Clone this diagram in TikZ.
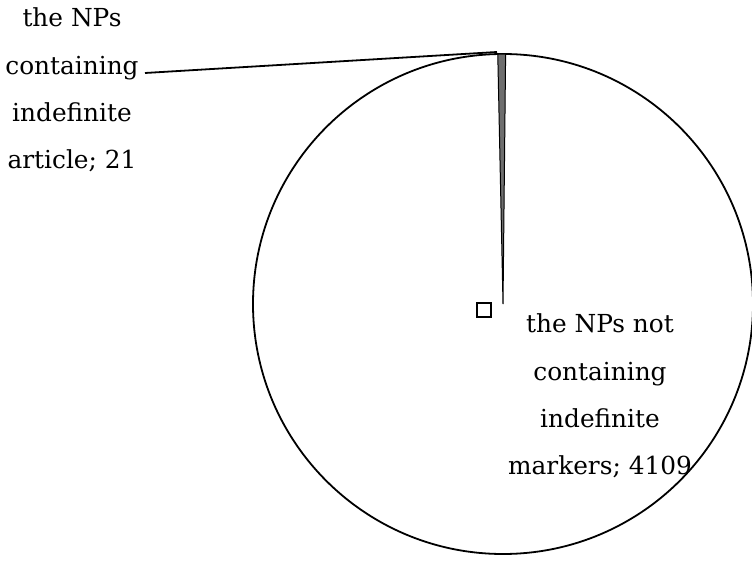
\documentclass[tikz,border=0pt]{standalone}
\usepackage{fontspec}
\setmainfont{DejaVu Serif}
\usetikzlibrary{calc}
\definecolor{slicegray}{HTML}{6E6E6E}
\tikzset{
  pieline/.style={line width=1.8pt, draw=black},
  lbl/.style={align=center, inner sep=0pt, font=\fontsize{24.8}{47.3}\selectfont},
  leader/.style={line width=1.8pt, draw=black}
}
\begin{document}
\begin{tikzpicture}[x=1pt,y=-1pt]
\useasboundingbox (0,0) rectangle (752,561);
\coordinate (c) at (503,304);
\draw[pieline, fill=white] (c) circle[radius=250pt];
\draw[pieline, line width=1pt, fill=slicegray] (c) -- ++(91.2:250pt) arc[start angle=91.2, end angle=89.4, radius=250pt] -- cycle;
\node[lbl] (small) at (72,90) {the NPs\\containing\\indefinite\\article; 21};
\node[lbl] (big) at (600,396) {the NPs not\\containing\\indefinite\\markers; 4109};
\coordinate (ls) at (145,73);
\coordinate (le) at (497,52);
\draw[leader] (ls) -- (le);
\node[draw=black, line width=1.5pt, minimum size=14pt, inner sep=0pt] (mark) at (484,310) {};
\end{tikzpicture}
\end{document}
